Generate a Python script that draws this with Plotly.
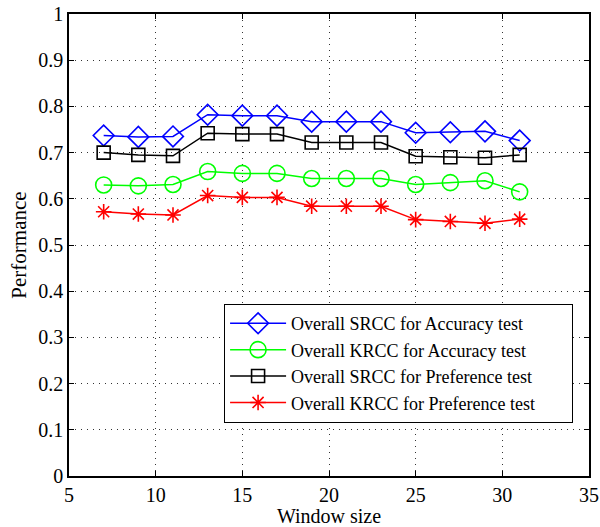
import plotly.graph_objects as go

window_size = [7, 9, 11, 13, 15, 17, 19, 21, 23, 25, 27, 29, 31]
srcc_accuracy = [0.737, 0.734, 0.735, 0.782, 0.780, 0.780, 0.767, 0.767, 0.767, 0.743, 0.744, 0.746, 0.726]
krcc_accuracy = [0.630, 0.628, 0.631, 0.659, 0.655, 0.655, 0.644, 0.644, 0.644, 0.631, 0.635, 0.639, 0.615]
srcc_preference = [0.700, 0.695, 0.693, 0.742, 0.740, 0.740, 0.722, 0.722, 0.722, 0.692, 0.690, 0.689, 0.695]
krcc_preference = [0.572, 0.567, 0.565, 0.607, 0.603, 0.603, 0.584, 0.584, 0.584, 0.555, 0.551, 0.547, 0.556]

names = ["Overall SRCC for Accuracy test", "Overall KRCC for Accuracy test",
         "Overall SRCC for Preference test", "Overall KRCC for Preference test"]
series = [srcc_accuracy, krcc_accuracy, srcc_preference, krcc_preference]
colors = ["#0000ff", "#00ff00", "#000000", "#ff0000"]
symbols = ["diamond-open", "circle-open", "square-open", "asterisk-open"]
sizes = [16, 16, 13, 13]

PAD = "\u00a0" * 7  # right-side breathing room inside the legend box

fig = go.Figure()
for n, s, c, sym, sz in zip(names, series, colors, symbols, sizes):
    fig.add_trace(go.Scatter(
        x=window_size, y=s, name=n + PAD, mode="lines+markers",
        line=dict(color=c, width=1.5),
        marker=dict(symbol=sym, size=sz, color=c, line=dict(color=c, width=1.6)),
    ))

font = "Times New Roman"
axis_common = dict(
    showline=True, linecolor="black", linewidth=1.5, mirror="ticks",
    ticks="inside", ticklen=5, tickcolor="black", tickwidth=1,
    showgrid=True, gridcolor="#333333", griddash="1px,5px", gridwidth=1,
    zeroline=False, automargin=False,
    tickfont=dict(family=font, size=20, color="black"),
)
fig.update_xaxes(range=[5, 35], dtick=5, tick0=5,
                 title=dict(text="Window size", font=dict(family=font, size=20, color="black"), standoff=4),
                 **axis_common)
fig.update_yaxes(range=[0, 1], dtick=0.1, tick0=0, tickformat="~g",
                 title=dict(text="Performance", font=dict(family=font, size=21, color="black"), standoff=6),
                 **axis_common)

fig.update_layout(
    width=600, height=527,
    margin=dict(l=69, r=11, t=14, b=51, autoexpand=False),
    paper_bgcolor="white", plot_bgcolor="white",
    font=dict(family=font, size=18, color="black"),
    legend=dict(x=0.969, y=0.115, xanchor="right", yanchor="bottom",
                bgcolor="white", bordercolor="black", borderwidth=1.2,
                font=dict(family=font, size=18, color="black"),
                itemwidth=56, tracegroupgap=0),
    showlegend=True,
)

fig.write_html("out.html")
